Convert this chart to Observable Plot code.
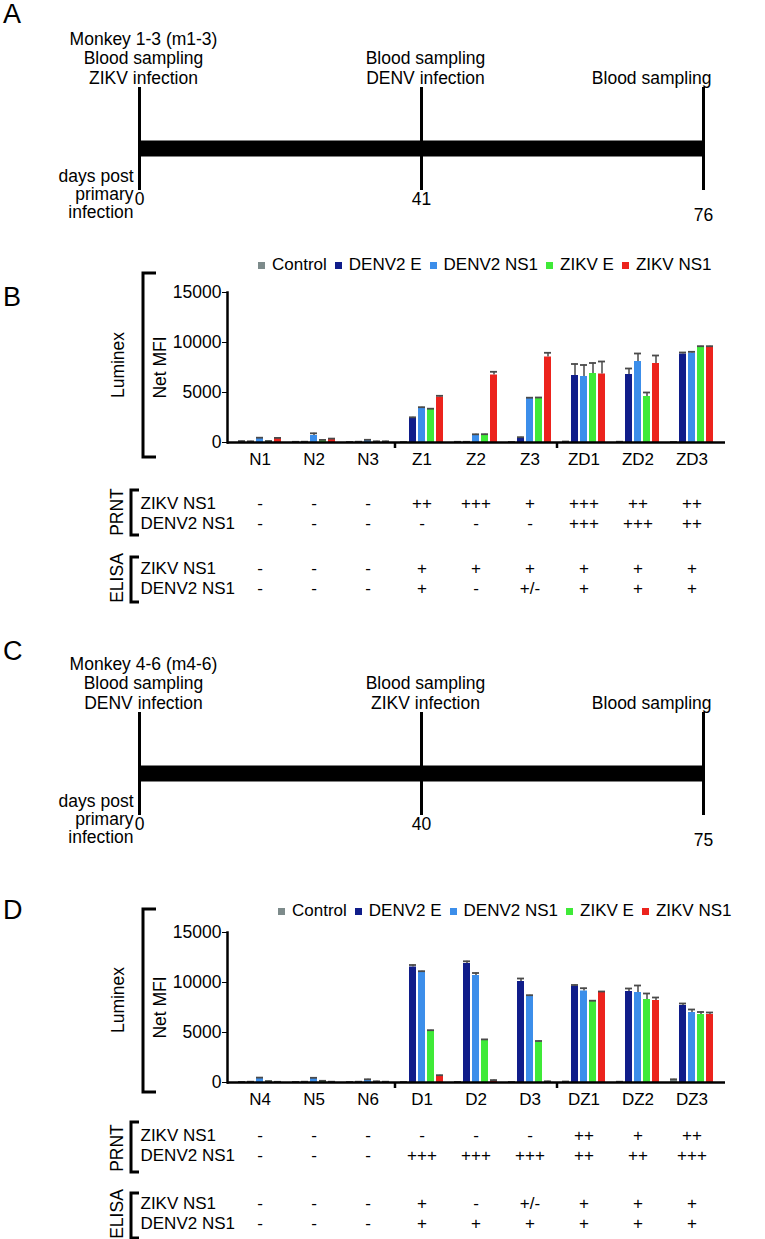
<!DOCTYPE html>
<html><head><meta charset="utf-8">
<script src="https://cdn.jsdelivr.net/npm/d3@7"></script>
<script src="https://cdn.jsdelivr.net/npm/@observablehq/plot@0.6"></script>
<style>
html,body{margin:0;padding:0;background:#fff;}
#page{position:relative;width:765px;height:1239px;overflow:hidden;font-family:"Liberation Sans",Arial,Helvetica,sans-serif;color:#000;}
.letter{position:absolute;left:3px;font-size:27px;line-height:1;font-weight:300;}
.legend{position:absolute;display:flex;align-items:center;font-size:17px;line-height:20px;height:20px;white-space:nowrap;}
.legend .it{display:flex;align-items:center;margin-right:8px;}
.legend .sw{width:7px;height:7px;margin-right:7px;}
</style></head><body><div id="page"></div><script>
const FONT = '"Liberation Sans", Arial, Helvetica, sans-serif';

// ---------- data ----------
const antigens = ["Control", "DENV2 E", "DENV2 NS1", "ZIKV E", "ZIKV NS1"];
const antigenColors = ["#7d8b8b", "#101d8a", "#3c8eea", "#3fea38", "#ec231d"];

// Panel A timeline
const daysA = ["0", "41", "76"];
const eventsA = ["Monkey 1-3 (m1-3)\nBlood sampling\nZIKV infection", "Blood sampling\nDENV infection", "Blood sampling"];
// Panel C timeline
const daysC = ["0", "40", "75"];
const eventsC = ["Monkey 4-6 (m4-6)\nBlood sampling\nDENV infection", "Blood sampling\nZIKV infection", "Blood sampling"];
const daysLabel = "days post\nprimary\ninfection";

// Panel B (Net MFI)
const samplesB = ["N1", "N2", "N3", "Z1", "Z2", "Z3", "ZD1", "ZD2", "ZD3"];
const controlB = [120, 50, 40, 30, 60, 40, 80, 60, 40];
const denvEB = [100, 60, 60, 2400, 50, 450, 6700, 6800, 8850];
const denvNS1B = [420, 700, 230, 3450, 750, 4400, 6600, 8100, 8950];
const zikvEB = [130, 220, 100, 3300, 750, 4400, 6900, 4600, 9550];
const zikvNS1B = [400, 330, 100, 4550, 6750, 8550, 6850, 7900, 9550];
const controlErrB = [20, 20, 10, 10, 10, 10, 20, 20, 10];
const denvEErrB = [20, 20, 20, 120, 20, 80, 1150, 600, 150];
const denvNS1ErrB = [60, 220, 40, 80, 70, 80, 1150, 800, 120];
const zikvEErrB = [20, 40, 20, 80, 80, 100, 1050, 400, 80];
const zikvNS1ErrB = [60, 60, 20, 120, 320, 420, 1250, 800, 80];
const prntZikvB = ["-", "-", "-", "++", "+++", "+", "+++", "++", "++"];
const prntDenvB = ["-", "-", "-", "-", "-", "-", "+++", "+++", "++"];
const elisaZikvB = ["-", "-", "-", "+", "+", "+", "+", "+", "+"];
const elisaDenvB = ["-", "-", "-", "+", "-", "+/-", "+", "+", "+"];

// Panel D (Net MFI)
const samplesD = ["N4", "N5", "N6", "D1", "D2", "D3", "DZ1", "DZ2", "DZ3"];
const controlD = [50, 50, 40, 40, 50, 40, 80, 60, 280];
const denvED = [60, 60, 60, 11550, 11900, 10100, 9650, 9100, 7700];
const denvNS1D = [450, 430, 280, 11050, 10700, 8650, 9150, 9000, 7000];
const zikvED = [120, 150, 100, 5150, 4250, 4050, 8100, 8300, 6800];
const zikvNS1D = [50, 60, 60, 650, 200, 100, 9000, 8200, 6800];
const controlErrD = [10, 10, 10, 10, 10, 10, 20, 20, 40];
const denvEErrD = [20, 20, 20, 200, 220, 300, 100, 300, 200];
const denvNS1ErrD = [40, 40, 40, 80, 250, 80, 280, 700, 300];
const zikvEErrD = [20, 20, 20, 80, 60, 100, 80, 600, 250];
const zikvNS1ErrD = [20, 20, 20, 80, 40, 20, 100, 300, 200];
const prntZikvD = ["-", "-", "-", "-", "-", "-", "++", "+", "++"];
const prntDenvD = ["-", "-", "-", "+++", "+++", "+++", "++", "++", "+++"];
const elisaZikvD = ["-", "-", "-", "+", "-", "+/-", "+", "+", "+"];
const elisaDenvD = ["-", "-", "-", "+", "+", "+", "+", "+", "+"];

const yTicks = [0, 5000, 10000, 15000];
const assays = ["PRNT", "ELISA"];
const rowNames = ["ZIKV NS1", "DENV2 NS1"];

// ---------- helpers ----------
const page = document.getElementById("page");
function place(el, top, left = 0) {
  el.style.position = "absolute";
  el.style.top = top + "px";
  el.style.left = left + "px";
  page.appendChild(el);
  return el;
}
const baseStyle = {fontFamily: FONT, fontSize: "17px", color: "#000", background: "none", overflow: "visible"};

const AX_L = 227, AX_R = 725;
function slotKeys(samples) {
  return samples.flatMap(s => [...antigens.map(a => s + "|" + a), s + "|gap"]);
}
function xScale(samples) {
  const keys = slotKeys(samples);
  const step = (AX_R - AX_L) / keys.length;
  return {type: "band", domain: keys, range: [AX_L + step / 2, AX_R + step / 2], paddingInner: 0.18, paddingOuter: 0.09, align: 0.5};
}

function timeline(days, events, top) {
  const ev = days.map((d, i) => ({day: d, label: events[i]}));
  const last = ev.length - 1;
  const svg = Plot.plot({
    width: 765, height: 225,
    marginTop: 87, marginBottom: 35, marginLeft: 138, marginRight: 62,
    style: {...baseStyle, fontSize: "17.5px"},
    x: {type: "point", domain: days, range: [138, 703], padding: 0, axis: null},
    y: {type: "point", domain: ["track"], range: [148, 148], axis: null},
    marks: [
      Plot.ruleX(ev, {x: "day", strokeWidth: 3, stroke: "#000"}),
      Plot.ruleY(["track"], {y: d => d, x1: () => days[0], x2: () => days[last], strokeWidth: 16, stroke: "#000"}),
      Plot.text(ev.slice(0, last), {x: "day", text: "label", frameAnchor: "top", lineAnchor: "bottom", dy: -4, dx: 4, lineHeight: 1.1, fill: "#000"}),
      Plot.text(ev.slice(last), {x: "day", text: "label", frameAnchor: "top", lineAnchor: "bottom", textAnchor: "end", dy: -4, dx: 8, lineHeight: 1.1, fill: "#000"}),
      Plot.text(ev.slice(0, last), {x: "day", text: "day", frameAnchor: "bottom", lineAnchor: "top", dy: 2, fill: "#000"}),
      Plot.text(ev.slice(last), {x: "day", text: "day", frameAnchor: "bottom", lineAnchor: "top", dy: 18, fill: "#000"}),
      Plot.text([daysLabel], {x: () => days[0], text: d => d, frameAnchor: "bottom", textAnchor: "end", lineAnchor: "top", dx: -6, dy: -21, lineHeight: 1.02, fill: "#000"})
    ]
  });
  place(svg, top);
}

function barChart(samples, series, errs, top) {
  const data = [];
  samples.forEach((s, i) => antigens.forEach((a, j) => data.push({sample: s, antigen: a, key: s + "|" + a, value: series[j][i], err: errs[j][i]})));
  const boundaries = [samples[2] + "|gap", samples[5] + "|gap"];
  const svg = Plot.plot({
    width: 765, height: 190,
    marginTop: 10, marginBottom: 30, marginLeft: AX_L, marginRight: 765 - AX_R,
    style: baseStyle,
    x: xScale(samples),
    y: {domain: [0, 15000]},
    color: {domain: antigens, range: antigenColors},
    marks: [
      Plot.barY(data, {x: "key", y: "value", fill: "antigen"}),
      Plot.ruleX(data, {x: "key", y1: "value", y2: d => d.value + d.err, stroke: "#4a4a4a", strokeWidth: 1.5}),
      Plot.tickY(data, {x: "key", y: d => d.value + d.err, stroke: "#4a4a4a", strokeWidth: 1.8}),
      Plot.ruleY([0], {stroke: "#000", strokeWidth: 2.5}),
      Plot.frame({anchor: "left", stroke: "#000", strokeWidth: 2.5}),
      Plot.ruleX(boundaries, {x: d => d, y1: () => 0, y2: () => 0, insetBottom: -6, stroke: "#000", strokeWidth: 2.5}),
      Plot.axisY({ticks: yTicks, tickFormat: d3.format("d"), tickSize: 5, tickPadding: 1, label: "Net MFI", labelArrow: "none", labelAnchor: "center", labelOffset: 74, fontSize: 17.5}),
      Plot.axisX({ticks: samples.map(s => s + "|DENV2 NS1"), tickFormat: k => k.split("|")[0], tickSize: 0, tickPadding: 10, label: null})
    ]
  });
  place(svg, top);
}

function legend(top, left) {
  const div = document.createElement("div");
  div.className = "legend";
  antigens.forEach((a, i) => {
    const it = document.createElement("div");
    it.className = "it";
    const sw = document.createElement("div");
    sw.className = "sw";
    sw.style.background = antigenColors[i];
    const tx = document.createElement("span");
    tx.textContent = a;
    it.appendChild(sw); it.appendChild(tx);
    div.appendChild(it);
  });
  place(div, top, left);
}

function table(samples, vals, top, marginTop, facetGap, height) {
  const cells = [];
  const rowsData = [];
  assays.forEach((as, ai) => rowNames.forEach((r, ri) => {
    rowsData.push({assay: as, row: r});
    vals[ai * 2 + ri].forEach((v, si) => cells.push({assay: as, row: r, key: samples[si] + "|DENV2 NS1", value: v}));
  }));
  const inner = 40;
  const svg = Plot.plot({
    width: 765, height,
    marginTop, marginBottom: height - marginTop - (2 * inner + facetGap), marginLeft: 140, marginRight: 765 - AX_R,
    style: baseStyle,
    x: {...xScale(samples), axis: null},
    fy: {domain: assays, paddingInner: facetGap / (inner + facetGap), paddingOuter: 0, axis: null},
    y: {type: "point", domain: rowNames, padding: 0.5, axis: null},
    marks: [
      Plot.text(rowsData, {fy: "assay", y: "row", text: "row", frameAnchor: "left", textAnchor: "start", fill: "#000"}),
      Plot.text(cells, {fy: "assay", y: "row", x: "key", text: "value", fill: "#000"})
    ]
  });
  place(svg, top);
}

// ---------- panels ----------
timeline(daysA, eventsA, 0);
legend(255, 258);
barChart(samplesB, [controlB, denvEB, denvNS1B, zikvEB, zikvNS1B], [controlErrB, denvEErrB, denvNS1ErrB, zikvEErrB, zikvNS1ErrB], 282);
table(samplesB, [prntZikvB, prntDenvB, elisaZikvB, elisaDenvB], 482, 11, 25, 120);

timeline(daysC, eventsC, 625);
legend(901, 278);
barChart(samplesD, [controlD, denvED, denvNS1D, zikvED, zikvNS1D], [controlErrD, denvEErrD, denvNS1ErrD, zikvEErrD, zikvNS1ErrD], 922);
table(samplesD, [prntZikvD, prntDenvD, elisaZikvD, elisaDenvD], 1114, 11, 28, 123);

// ---------- decorations (panel letters, brackets, group labels) ----------
[["A", 1], ["B", 284], ["C", 638], ["D", 897]].forEach(([t, y]) => {
  const d = document.createElement("div");
  d.className = "letter";
  d.textContent = t;
  d.style.top = y + "px";
  page.appendChild(d);
});
const deco = document.createElementNS("http://www.w3.org/2000/svg", "svg");
deco.setAttribute("width", 765);
deco.setAttribute("height", 1239);
deco.style.position = "absolute";
deco.style.left = "0px";
deco.style.top = "0px";
deco.style.fontFamily = FONT;
const brackets = [
  ["M156,273H143V457H156", "Luminex", 118, 365],
  ["M139,490H131V535H139", "PRNT", 117, 512],
  ["M139,557H131V602H139", "ELISA", 117, 578],
  ["M156,909H143V1092H156", "Luminex", 118, 1000],
  ["M139,1122H131V1172H139", "PRNT", 117, 1148],
  ["M139,1193H131V1238H139", "ELISA", 117, 1214]
];
deco.innerHTML = brackets.map(([p, t, x, y]) =>
  `<path d="${p}" fill="none" stroke="#000" stroke-width="3"/>` +
  `<text x="${x}" y="${y}" transform="rotate(-90 ${x} ${y})" text-anchor="middle" dominant-baseline="central" font-size="17.5">${t}</text>`
).join("");
page.appendChild(deco);
</script></body></html>
